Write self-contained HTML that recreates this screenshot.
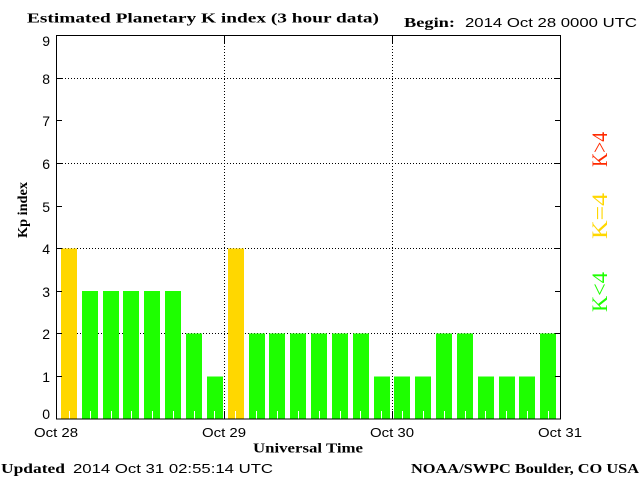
<!DOCTYPE html>
<html><head><meta charset="utf-8"><style>
html,body{margin:0;padding:0;background:#fff;}
svg{display:block;}
.serif{font-family:"Liberation Serif",serif;font-weight:bold;}
.sans{font-family:"Liberation Sans",sans-serif;}
</style></head><body>
<svg width="640" height="480" viewBox="0 0 640 480" xmlns="http://www.w3.org/2000/svg">
<rect x="0" y="0" width="640" height="480" fill="#fff"/>
<!-- grid -->
<g stroke="#000" stroke-width="1" stroke-dasharray="1 2" fill="none">
<line x1="62" y1="78.5" x2="555" y2="78.5"/>
<line x1="62" y1="163.5" x2="555" y2="163.5"/>
<line x1="62" y1="248.5" x2="555" y2="248.5"/>
<line x1="62" y1="333.5" x2="555" y2="333.5"/>
<line x1="224.5" y1="43" x2="224.5" y2="411"/>
<line x1="392.5" y1="43" x2="392.5" y2="411"/>
</g>
<!-- bars -->
<g shape-rendering="crispEdges">
<rect x="61" y="248.3" width="16" height="170.7" fill="#ffd700"/>
<rect x="82" y="291" width="16" height="128" fill="#1eff00"/>
<rect x="103" y="291" width="16" height="128" fill="#1eff00"/>
<rect x="123" y="291" width="16" height="128" fill="#1eff00"/>
<rect x="144" y="291" width="16" height="128" fill="#1eff00"/>
<rect x="165" y="291" width="16" height="128" fill="#1eff00"/>
<rect x="186" y="333.7" width="16" height="85.3" fill="#1eff00"/>
<rect x="207" y="376.3" width="16" height="42.7" fill="#1eff00"/>
<rect x="228" y="248.3" width="16" height="170.7" fill="#ffd700"/>
<rect x="249" y="333.7" width="16" height="85.3" fill="#1eff00"/>
<rect x="269" y="333.7" width="16" height="85.3" fill="#1eff00"/>
<rect x="290" y="333.7" width="16" height="85.3" fill="#1eff00"/>
<rect x="311" y="333.7" width="16" height="85.3" fill="#1eff00"/>
<rect x="332" y="333.7" width="16" height="85.3" fill="#1eff00"/>
<rect x="353" y="333.7" width="16" height="85.3" fill="#1eff00"/>
<rect x="374" y="376.3" width="16" height="42.7" fill="#1eff00"/>
<rect x="394" y="376.3" width="16" height="42.7" fill="#1eff00"/>
<rect x="415" y="376.3" width="16" height="42.7" fill="#1eff00"/>
<rect x="436" y="333.7" width="16" height="85.3" fill="#1eff00"/>
<rect x="457" y="333.7" width="16" height="85.3" fill="#1eff00"/>
<rect x="478" y="376.3" width="16" height="42.7" fill="#1eff00"/>
<rect x="499" y="376.3" width="16" height="42.7" fill="#1eff00"/>
<rect x="519" y="376.3" width="16" height="42.7" fill="#1eff00"/>
<rect x="540" y="333.7" width="16" height="85.3" fill="#1eff00"/>
</g>
<!-- white ticks inside bars -->
<g fill="#fff" shape-rendering="crispEdges">
<rect x="69" y="411" width="1" height="8"/>
<rect x="90" y="411" width="1" height="8"/>
<rect x="111" y="411" width="1" height="8"/>
<rect x="131" y="411" width="1" height="8"/>
<rect x="152" y="411" width="1" height="8"/>
<rect x="173" y="411" width="1" height="8"/>
<rect x="194" y="411" width="1" height="8"/>
<rect x="214" y="411" width="1" height="8"/>
<rect x="235" y="411" width="1" height="8"/>
<rect x="256" y="411" width="1" height="8"/>
<rect x="277" y="411" width="1" height="8"/>
<rect x="298" y="411" width="1" height="8"/>
<rect x="319" y="411" width="1" height="8"/>
<rect x="340" y="411" width="1" height="8"/>
<rect x="360" y="411" width="1" height="8"/>
<rect x="381" y="411" width="1" height="8"/>
<rect x="402" y="411" width="1" height="8"/>
<rect x="423" y="411" width="1" height="8"/>
<rect x="444" y="411" width="1" height="8"/>
<rect x="465" y="411" width="1" height="8"/>
<rect x="485" y="411" width="1" height="8"/>
<rect x="506" y="411" width="1" height="8"/>
<rect x="527" y="411" width="1" height="8"/>
<rect x="548" y="411" width="1" height="8"/>
</g>
<!-- axes frame -->
<rect x="56.5" y="35.5" width="504" height="383.5" fill="none" stroke="#000" stroke-width="1"/>
<g stroke="#000" stroke-width="1">
<line x1="56" y1="78.5" x2="62" y2="78.5"/><line x1="555" y1="78.5" x2="560" y2="78.5"/>
<line x1="56" y1="120.5" x2="62" y2="120.5"/><line x1="555" y1="120.5" x2="560" y2="120.5"/>
<line x1="56" y1="163.5" x2="62" y2="163.5"/><line x1="555" y1="163.5" x2="560" y2="163.5"/>
<line x1="56" y1="206.5" x2="62" y2="206.5"/><line x1="555" y1="206.5" x2="560" y2="206.5"/>
<line x1="56" y1="248.5" x2="62" y2="248.5"/><line x1="555" y1="248.5" x2="560" y2="248.5"/>
<line x1="56" y1="291.5" x2="62" y2="291.5"/><line x1="555" y1="291.5" x2="560" y2="291.5"/>
<line x1="56" y1="333.5" x2="62" y2="333.5"/><line x1="555" y1="333.5" x2="560" y2="333.5"/>
<line x1="56" y1="376.5" x2="62" y2="376.5"/><line x1="555" y1="376.5" x2="560" y2="376.5"/>
<line x1="224.5" y1="35" x2="224.5" y2="43"/><line x1="224.5" y1="411" x2="224.5" y2="419"/>
<line x1="392.5" y1="35" x2="392.5" y2="43"/><line x1="392.5" y1="411" x2="392.5" y2="419"/>
</g>
<!-- y labels -->
<g class="sans" font-size="14" text-anchor="end" fill="#000">
<text x="50" y="46">9</text>
<text x="50" y="84">8</text>
<text x="50" y="126">7</text>
<text x="50" y="169">6</text>
<text x="50" y="212">5</text>
<text x="50" y="254">4</text>
<text x="50" y="297">3</text>
<text x="50" y="339">2</text>
<text x="50" y="382">1</text>
<text x="50" y="419">0</text>
</g>
<!-- x labels -->
<g class="sans" font-size="13" fill="#000">
<text x="34" y="437" textLength="44" lengthAdjust="spacingAndGlyphs">Oct 28</text>
<text x="202" y="437" textLength="44" lengthAdjust="spacingAndGlyphs">Oct 29</text>
<text x="370" y="437" textLength="44" lengthAdjust="spacingAndGlyphs">Oct 30</text>
<text x="538" y="437" textLength="44" lengthAdjust="spacingAndGlyphs">Oct 31</text>
</g>
<!-- titles -->
<text class="serif" x="27" y="22.5" font-size="14" textLength="352" lengthAdjust="spacingAndGlyphs">Estimated Planetary K index (3 hour data)</text>
<text class="serif" x="404" y="27" font-size="14" textLength="51" lengthAdjust="spacingAndGlyphs">Begin:</text>
<text class="sans" x="465" y="27" font-size="13" textLength="172" lengthAdjust="spacingAndGlyphs">2014 Oct 28 0000 UTC</text>
<text class="serif" x="253" y="452.5" font-size="14" textLength="110" lengthAdjust="spacingAndGlyphs">Universal Time</text>
<text class="serif" x="1" y="473" font-size="14" textLength="64" lengthAdjust="spacingAndGlyphs">Updated</text>
<text class="sans" x="73" y="473" font-size="13" textLength="200" lengthAdjust="spacingAndGlyphs">2014 Oct 31 02:55:14 UTC</text>
<text class="serif" x="411" y="473" font-size="14" textLength="228" lengthAdjust="spacingAndGlyphs">NOAA/SWPC Boulder, CO USA</text>
<text class="serif" transform="translate(27,238) rotate(-90)" font-size="14" textLength="56" lengthAdjust="spacingAndGlyphs">Kp index</text>
<!-- legend -->
<g font-family="Liberation Serif, serif" font-size="22">
<text transform="translate(607,167) rotate(-90)" fill="#ff2a00" textLength="35" lengthAdjust="spacingAndGlyphs">K&gt;4</text>
<text transform="translate(607,239) rotate(-90)" fill="#ffd700" textLength="46" lengthAdjust="spacingAndGlyphs">K=4</text>
<text transform="translate(607,312) rotate(-90)" fill="#1eff00" textLength="40" lengthAdjust="spacingAndGlyphs">K&lt;4</text>
</g>
</svg>
</body></html>
